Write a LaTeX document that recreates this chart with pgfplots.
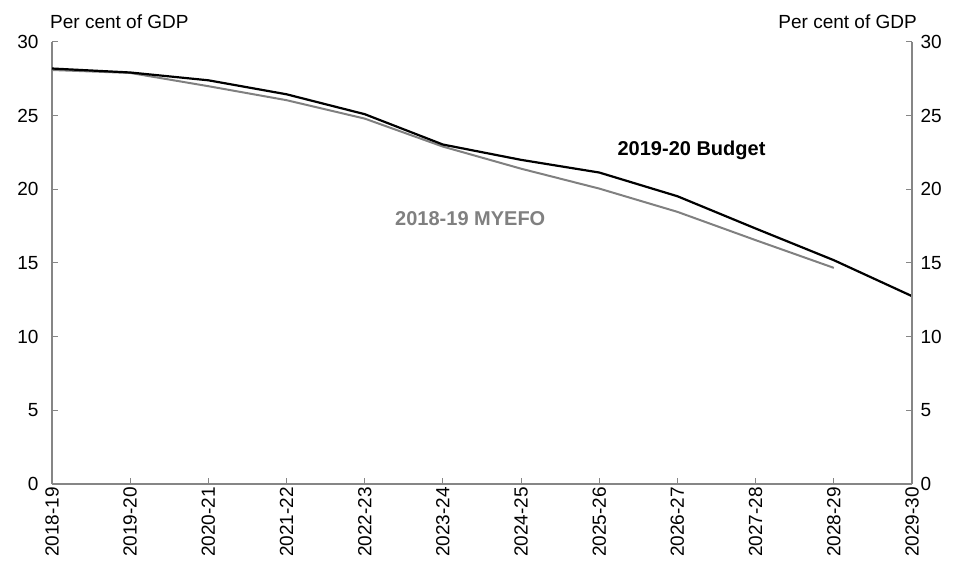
\documentclass[border=0pt]{standalone}
\usepackage{pgfplots}
\pgfplotsset{compat=1.18}
\usepackage{fontspec}
\setmainfont{Liberation Sans}
\definecolor{axgray}{RGB}{134,134,134}
\definecolor{lgray}{RGB}{128,128,128}
\begin{document}
\begin{tikzpicture}[x=1pt,y=1pt]
\path[use as bounding box] (0,0) rectangle (954,572);
\pgfplotsset{
  common/.style={
    at={(52pt,88pt)}, anchor=south west, scale only axis,
    width=860pt, height=442pt,
    xmin=0, xmax=11, ymin=0, ymax=30,
    ytick={0,5,...,30},
    axis line style={axgray, line width=1.3pt},
    tick style={axgray, line width=1pt},
    tick align=inside, major tick length=6pt,
    font=\fontsize{19}{22}\selectfont,
    /pgf/number format/assume math mode=true,
    clip=false,
  }
}
\begin{axis}[common,
  axis x line*=bottom, axis y line*=left,
  xtick={0,...,11},
  xticklabels={2018-19,2019-20,2020-21,2021-22,2022-23,2023-24,2024-25,2025-26,2026-27,2027-28,2028-29,2029-30},
  xticklabel style={rotate=90, anchor=east, inner sep=3pt},
  yticklabel style={xshift=-10pt},
]
\addplot[lgray, line width=2pt] coordinates {
(0,28.1) (1,27.9) (2,27.0) (3,26.05) (4,24.8) (5,22.9) (6,21.4) (7,20.05) (8,18.47) (9,16.55) (10,14.67)
};
\addplot[black, line width=2.2pt] coordinates {
(0,28.2) (1,27.93) (2,27.4) (3,26.45) (4,25.1) (5,23.04) (6,22.0) (7,21.14) (8,19.53) (9,17.34) (10,15.19) (11,12.75)
};
\node[font=\fontsize{20}{22}\selectfont\bfseries, black] at (axis cs:8.18,22.65) {2019-20 Budget};
\node[font=\fontsize{20}{22}\selectfont\bfseries, lgray] at (axis cs:5.35,18.04) {2018-19 MYEFO};
\node[anchor=base west, inner sep=0pt] at ([xshift=-2pt,yshift=13pt]rel axis cs:0,1) {Per cent of GDP};
\node[anchor=base east, inner sep=0pt] at ([xshift=5pt,yshift=13pt]rel axis cs:1,1) {Per cent of GDP};
\end{axis}
\begin{axis}[common,
  axis x line=none, axis y line*=right,
  xtick=\empty,
  yticklabel style={xshift=5pt},
]
\end{axis}
\end{tikzpicture}
\end{document}
